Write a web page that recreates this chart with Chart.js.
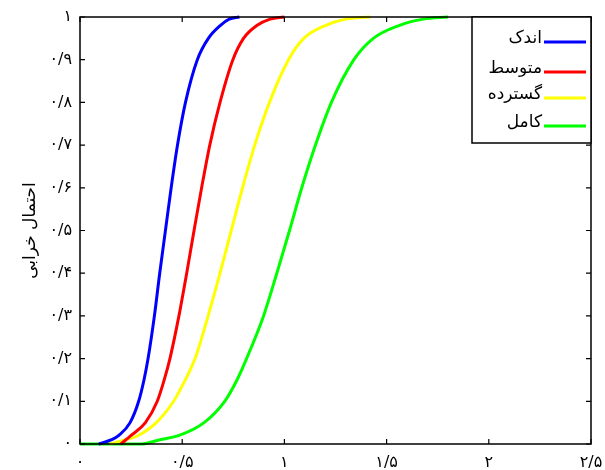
<!DOCTYPE html>
<html>
<head>
<meta charset="utf-8">
<script src="https://cdn.jsdelivr.net/npm/chart.js@4"></script>
<style>
html,body{margin:0;padding:0;background:#fff;}
#wrap{width:605px;height:470px;}
</style>
</head>
<body>
<div id="wrap"><canvas id="c" width="605" height="470"></canvas></div>
<script>
// ---- data ----
const seriesNames = ['اندک', 'متوسط', 'گسترده', 'کامل'];
const seriesColors = ['#0000FF', '#FF0000', '#FFFF00', '#00FF00'];

// probability levels at which each curve was read
const probLevels = [0, 0.01, 0.02, 0.05, 0.1, 0.15, 0.2, 0.3, 0.4, 0.5, 0.6, 0.7, 0.8, 0.9, 0.95, 0.98, 0.995, 1];

const slightX    = [0.092, 0.155, 0.19, 0.245, 0.287, 0.313, 0.333, 0.364, 0.39, 0.418, 0.446, 0.477, 0.516, 0.574, 0.628, 0.686, 0.73, 0.78];
const moderateX  = [0.20, 0.225, 0.25, 0.32, 0.378, 0.412, 0.44, 0.484, 0.522, 0.558, 0.595, 0.635, 0.685, 0.748, 0.80, 0.865, 0.93, 1.0];
const extensiveX = [0.145, 0.225, 0.285, 0.373, 0.458, 0.515, 0.563, 0.627, 0.685, 0.74, 0.795, 0.855, 0.927, 1.02, 1.095, 1.2, 1.3, 1.42];
const completeX  = [0.30, 0.39, 0.485, 0.607, 0.708, 0.768, 0.815, 0.898, 0.963, 1.025, 1.085, 1.152, 1.23, 1.34, 1.435, 1.56, 1.68, 1.80];
const completeBaseX = [0, 0.15];   // green runs along zero before rising
const completeBaseY = [0, 0];

const xTickLabels = ['۰', '۰/۵', '۱', '۱/۵', '۲', '۲/۵'];
const yTickLabels = ['۰', '۰/۱', '۰/۲', '۰/۳', '۰/۴', '۰/۵', '۰/۶', '۰/۷', '۰/۸', '۰/۹', '۱'];
const yTitle = 'احتمال خرابی';

// ---- build ----
const FONT = "'DejaVu Sans', sans-serif";
const toPts = (xs, ys) => xs.map((x, j) => ({x: x, y: ys[j]}));
const seriesPts = [
  toPts(slightX, probLevels),
  toPts(moderateX, probLevels),
  toPts(extensiveX, probLevels),
  toPts(completeBaseX, completeBaseY).concat(toPts(completeX, probLevels))
];

const datasets = seriesNames.map((name, i) => ({
  label: name,
  data: seriesPts[i],
  borderColor: seriesColors[i],
  backgroundColor: seriesColors[i],
  borderWidth: 3,
  pointRadius: 0,
  showLine: true,
  fill: false,
  cubicInterpolationMode: 'monotone',
  clip: 4
}));

const framePlugin = {
  id: 'frame',
  afterDatasetsDraw(chart) {
    const ctx = chart.ctx;
    const a = chart.chartArea;
    const xs = chart.scales.x, ys = chart.scales.y;
    ctx.save();
    ctx.strokeStyle = '#000';
    ctx.lineWidth = 1.5;
    ctx.strokeRect(a.left, a.top, a.right - a.left, a.bottom - a.top);
    ctx.lineWidth = 1.2;
    const tl = 5;
    ctx.beginPath();
    xs.ticks.forEach(t => {
      const px = xs.getPixelForValue(t.value);
      ctx.moveTo(px, a.bottom); ctx.lineTo(px, a.bottom - tl);
      ctx.moveTo(px, a.top); ctx.lineTo(px, a.top + tl);
    });
    ys.ticks.forEach(t => {
      const py = ys.getPixelForValue(t.value);
      ctx.moveTo(a.left, py); ctx.lineTo(a.left + tl, py);
      ctx.moveTo(a.right, py); ctx.lineTo(a.right - tl, py);
    });
    ctx.stroke();

    // legend box (top-right, inside plot)
    const bw = 119, bh = 126;
    const bx = a.right - bw, by = a.top;
    ctx.fillStyle = '#fff';
    ctx.fillRect(bx, by, bw, bh);
    ctx.lineWidth = 1.5;
    ctx.strokeStyle = '#000';
    ctx.strokeRect(bx, by, bw, bh);
    const rows = [25, 55, 81, 109];
    ctx.font = '17px ' + FONT;
    ctx.textAlign = 'right';
    ctx.textBaseline = 'middle';
    chart.data.datasets.forEach((ds, i) => {
      const y = by + rows[i];
      ctx.strokeStyle = ds.borderColor;
      ctx.lineWidth = 3;
      ctx.beginPath();
      ctx.moveTo(bx + 72, y); ctx.lineTo(bx + 114, y);
      ctx.stroke();
      ctx.fillStyle = '#000';
      ctx.fillText(ds.label, bx + 70, y - 3);
    });
    ctx.restore();
  }
};

new Chart(document.getElementById('c'), {
  type: 'scatter',
  data: {datasets: datasets},
  plugins: [framePlugin],
  options: {
    responsive: false,
    animation: false,
    devicePixelRatio: 1,
    layout: {padding: {left: 20, top: 17, right: 14, bottom: 0}},
    plugins: {legend: {display: false}, tooltip: {enabled: false}},
    scales: {
      x: {
        type: 'linear', min: 0, max: 2.5,
        afterFit(s) { s.height = 26; s.paddingLeft = 0; s.paddingRight = 0; },
        grid: {display: false, drawTicks: false},
        border: {display: false},
        ticks: {
          stepSize: 0.5, padding: 9, color: '#000',
          font: {family: FONT, size: 16},
          callback: (v, i) => xTickLabels[i]
        }
      },
      y: {
        type: 'linear', min: 0, max: 1,
        afterFit(s) { s.width = 60; s.paddingTop = 0; s.paddingBottom = 0; },
        grid: {display: false, drawTicks: false},
        border: {display: false},
        title: {display: true, text: yTitle, color: '#000', font: {family: FONT, size: 17}, padding: {top: 0, bottom: 0}},
        ticks: {
          stepSize: 0.1, padding: 8, color: '#000',
          font: {family: FONT, size: 16},
          callback: (v, i) => yTickLabels[i]
        }
      }
    }
  }
});
</script>
</body>
</html>
